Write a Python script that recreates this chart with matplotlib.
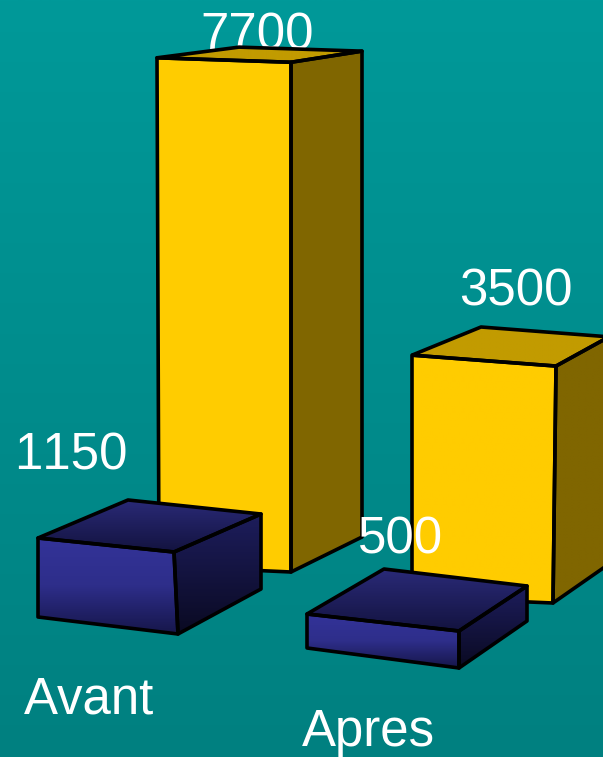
import matplotlib
matplotlib.use("Agg")
import matplotlib.pyplot as plt
from matplotlib.colors import LinearSegmentedColormap
from matplotlib.patches import Polygon
import numpy as np

plt.rcParams['font.family'] = ['Liberation Sans', 'DejaVu Sans']
plt.rcParams['text.kerning_factor'] = 6  # keeps the digits evenly spaced

# values
categories = ["Avant", "Apres"]
yellow_values = [7700, 3500]
blue_values = [1150, 500]

# floor corners of each box (front left, front right, back right, back left)
# and how many pixels one unit takes at that corner, perspective makes them differ
yellow_floor = [
    [(159, 566), (291, 572), (362, 537), (239, 533)],
    [(412, 597), (553, 603), (609, 564), (481, 558)],
]
yellow_scale = [
    [0.0660, 0.0662, 0.0631, 0.0631],
    [0.0691, 0.0677, 0.0649, 0.0660],
]
blue_floor = [
    [(38, 617), (178, 634), (261, 589), (128, 576)],
    [(307, 648), (459, 668), (527, 621), (384, 604)],
]
blue_scale = [
    [0.0687, 0.0713, 0.0652, 0.0661],
    [0.0680, 0.0740, 0.0700, 0.0700],
]
# how far the top of the front left / front right edge leans sideways
yellow_lean = [(-2, 0), (0, 3)]
blue_lean = [(0, -4), (0, 0)]


def grad(colors):
    return LinearSegmentedColormap.from_list("g", colors)


def fill_face(ax, pts, colors, z):
    # vertical gradient clipped to the face outline
    pts = np.array(pts, dtype=float)
    poly = Polygon(pts, closed=True, fc="none", ec="none", transform=ax.transData)
    ax.add_patch(poly)
    x0, x1 = pts[:, 0].min(), pts[:, 0].max()
    y0, y1 = pts[:, 1].min(), pts[:, 1].max()
    img = ax.imshow(np.linspace(0, 1, 128).reshape(-1, 1), cmap=grad(colors), aspect="auto",
                    extent=(x0, x1, y1, y0), zorder=z, interpolation="bilinear")
    img.set_clip_path(poly)


def draw_box(ax, floor, scale, value, lean, front, top, side, z):
    tops = [(x, y - value * s) for (x, y), s in zip(floor, scale)]
    tops[0] = (tops[0][0] + lean[0], tops[0][1])
    tops[1] = (tops[1][0] + lean[1], tops[1][1])
    fill_face(ax, [tops[0], tops[1], floor[1], floor[0]], front, z)
    fill_face(ax, [tops[1], tops[2], floor[2], floor[1]], side, z)
    fill_face(ax, tops, top, z)
    # outlines on top of the faces
    for face in ([tops[0], tops[1], floor[1], floor[0]],
                 [tops[1], tops[2], floor[2], floor[1]],
                 tops):
        ax.add_patch(Polygon(face, fc="none", ec="black", lw=2.6, joinstyle="round", zorder=z + 0.1))


fig = plt.figure(figsize=(6.03, 7.57), dpi=100)
ax = fig.add_axes([0, 0, 1, 1])

# teal backdrop
ax.imshow(np.linspace(0, 1, 256).reshape(-1, 1), cmap=grad(["#009999", "#008080"]), aspect="auto",
          extent=(0, 603, 757, 0), zorder=0)

YELLOW = (["#FFCC00", "#FFCC00"], ["#C29B00", "#C29B00"], ["#806600", "#806600"])
BLUE = (["#333399", "#2E2E8A", "#16164A"], ["#2A2A78", "#13133F"], ["#1D1D5C", "#0A0A22"])

txt = dict(color="white", fontsize=36.7)
ax.text(257, 49, str(yellow_values[0]), ha="center", va="baseline", zorder=1, **txt)
draw_box(ax, yellow_floor[0], yellow_scale[0], yellow_values[0], yellow_lean[0], *YELLOW, z=2)
draw_box(ax, yellow_floor[1], yellow_scale[1], yellow_values[1], yellow_lean[1], *YELLOW, z=3)
draw_box(ax, blue_floor[0], blue_scale[0], blue_values[0], blue_lean[0], *BLUE, z=4)
draw_box(ax, blue_floor[1], blue_scale[1], blue_values[1], blue_lean[1], *BLUE, z=5)

ax.text(516, 306, str(yellow_values[1]), ha="center", va="baseline", zorder=6, **txt)
ax.text(71, 469, str(blue_values[0]), ha="center", va="baseline", zorder=6, **txt)
ax.text(401, 553, str(blue_values[1]), ha="center", va="baseline", zorder=6, **txt)
ax.text(24, 713, categories[0], ha="left", va="baseline", zorder=6, **txt)
ax.text(302, 746, categories[1], ha="left", va="baseline", zorder=6, **txt)

ax.set_xlim(0, 603)
ax.set_ylim(757, 0)
ax.axis("off")

fig.savefig("out.png", dpi=100)
